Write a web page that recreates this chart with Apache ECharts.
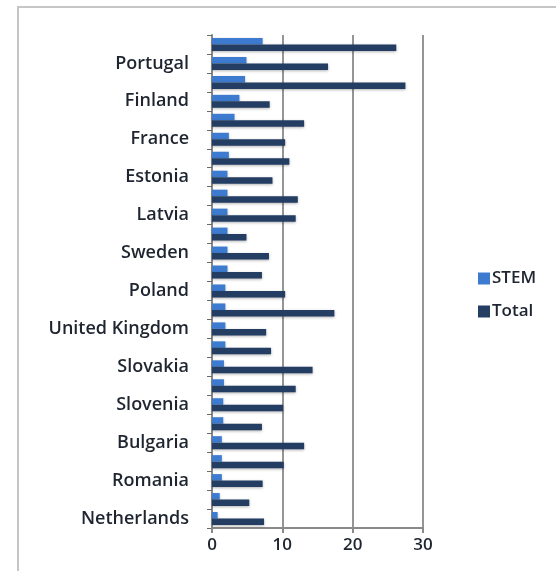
<!DOCTYPE html>
<html><head><meta charset="utf-8">
<script src="https://cdn.jsdelivr.net/npm/echarts@6/dist/echarts.min.js"></script>
<style>html,body{margin:0;padding:0;background:#fff;}#c{width:556px;height:571px;}</style>
</head><body><div id="c"></div>
<script>
var categories = ['Netherlands','Luxembourg','Romania','Hungary','Bulgaria','Czech Republic','Slovenia','Austria','Slovakia','Italy','United Kingdom','Greece','Poland','Denmark','Sweden','Belgium','Latvia','Lithuania','Estonia','Spain','France','Ireland','Finland','Cyprus','Portugal','Malta'];
var stem = [0.8,1.1,1.4,1.4,1.4,1.6,1.6,1.7,1.7,1.9,1.9,1.9,1.9,2.2,2.2,2.2,2.2,2.2,2.2,2.4,2.4,3.2,3.9,4.7,4.9,7.2];
var total = [7.4,5.3,7.2,10.2,13.1,7.1,10.1,11.9,14.3,8.4,7.7,17.4,10.4,7.1,8.1,4.9,11.9,12.2,8.6,11.0,10.4,13.1,8.2,27.5,16.5,26.2];
var xTicks = [0,10,20,30];

var chart = echarts.init(document.getElementById('c'));
var font = 'Open Sans';
chart.setOption({
  animation: false,
  graphic: [{type:'rect', shape:{x:18,y:7,width:700,height:700}, style:{fill:'none', stroke:'#c6c6c6', lineWidth:2}}],
  legend: {
    orient: 'vertical', left: 473, top: 265, itemGap: 16, itemWidth: 12, itemHeight: 12,
    icon: 'rect', data: ['STEM','Total'],
    textStyle: {fontFamily: font, fontSize: 17, fontWeight: 600, color: '#1e2530', padding:[0,0,0,-3]}
  },
  grid: {left: 212, right: 133, top: 35, bottom: 43},
  xAxis: {
    type: 'value', min: xTicks[0], max: xTicks[xTicks.length-1], interval: 10,
    axisLine: {show: true, lineStyle: {color: '#8a8a8a', width: 2}},
    axisTick: {show: true, length: 5, lineStyle: {color: '#8a8a8a', width: 2}},
    splitLine: {show: true, lineStyle: {color: '#959595', width: 2}},
    axisLabel: {fontFamily: font, fontSize: 17, fontWeight: 600, color: '#1e2530', margin: 9}
  },
  yAxis: {
    type: 'category', data: categories,
    axisLine: {show: true, lineStyle: {color: '#8a8a8a', width: 2}},
    axisTick: {show: true, length: 5, interval: 0, lineStyle: {color: '#6a6a6a', width: 1}},
    axisLabel: {interval: 1, fontFamily: font, fontSize: 18, fontWeight: 600, color: '#1e2530', margin: 23}
  },
  series: [
    {name: 'STEM', type: 'bar', data: stem, barWidth: 6.5, barGap: '0%',
     itemStyle: {color: '#3c7bcf', shadowBlur: 3, shadowColor: 'rgba(0,0,0,0.25)', shadowOffsetY: 1}},
    {name: 'Total', type: 'bar', data: total, barWidth: 6.5, barGap: '0%',
     itemStyle: {color: '#233d63', shadowBlur: 3, shadowColor: 'rgba(0,0,0,0.3)', shadowOffsetY: 1}}
  ]
});
</script></body></html>
